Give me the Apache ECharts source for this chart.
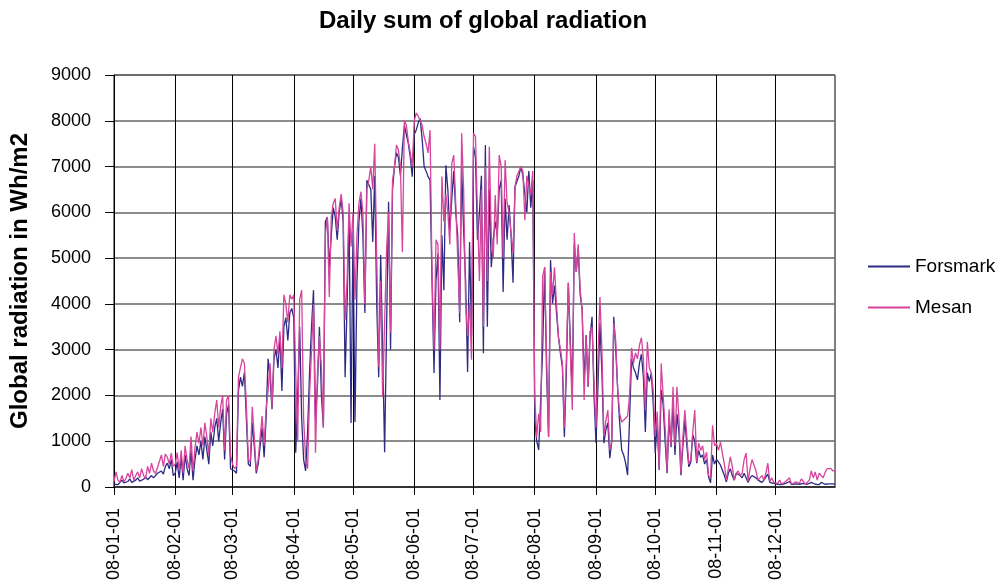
<!DOCTYPE html>
<html>
<head>
<meta charset="utf-8">
<script src="https://cdn.jsdelivr.net/npm/echarts@6/dist/echarts.min.js"></script>
<style>
  html, body { margin: 0; padding: 0; background: #fff; }
  #chart { width: 1000px; height: 586px; }
</style>
</head>
<body>
<div id="chart"></div>
<script>
  // days per month in 2008 (leap year)
  var monthDays = [31, 29, 31, 30, 31, 30, 31, 31, 30, 31, 30, 31];

  // daily sums, Wh/m2
  var forsmark = [
    // jan
    60,100,50,80,150,90,60,120,180,100,70,150,200,130,90,170,220,160,120,250,200,180,300,260,350,280,450,520,400,600,250,
    // feb
    300,550,200,650,150,700,400,250,800,150,600,900,700,1000,600,1100,800,500,1200,900,1300,1500,1000,1400,1700,600,1600,1800,400,
    // mar
    400,350,300,2100,2400,2200,2500,1500,500,450,1400,900,300,500,900,1300,650,1500,2800,2400,1700,2800,3000,2600,3300,2100,3500,3700,3200,3800,3900,
    // apr
    3700,750,2000,3500,1500,600,350,1200,2500,3500,4300,1500,2200,3500,2000,1300,5800,5900,4800,5500,6100,5900,5400,6000,6300,5800,2400,4000,6000,1400,
    // may
    5600,1420,4500,5800,6300,5500,3800,6700,6600,6500,5350,6800,4000,2400,5070,3000,760,3500,6230,3000,6500,7000,7300,7200,6800,7400,7900,7700,7500,7200,6780,
    // jun
    7700,7800,7950,8050,7600,7000,6900,6780,6700,4500,2490,4500,5100,1900,5500,4300,7030,6500,5600,6300,6900,6000,5500,3600,7000,5600,4500,2510,5350,3300,
    // jul
    7430,7200,5400,6000,6800,2920,7470,3500,6500,4800,5400,5800,5500,6500,6700,4260,6300,5400,6160,5500,4460,6560,6600,6800,7000,6800,6400,6000,6900,6100,6700,
    // aug
    1500,1000,810,770,3000,4800,2500,1090,4960,4010,4400,3800,3280,2920,2620,1090,2500,4460,3200,2000,5300,4700,5200,4200,3870,2300,3320,2190,3280,3720,2000,
    // sep
    960,2200,3580,2500,960,1250,1400,630,1000,3720,3000,2120,1400,810,700,520,260,1500,2800,2600,2500,2340,2700,2900,2400,1200,2500,2300,2490,1800,
    // oct
    740,1400,370,2120,1800,1000,300,1530,870,1800,700,1600,1200,260,900,1460,900,440,540,1140,1000,520,800,650,700,500,600,220,90,700,500,
    // nov
    600,550,480,450,250,110,300,400,250,150,300,320,250,200,300,280,100,200,250,250,200,150,120,100,150,120,280,100,120,80,
    // dec
    80,60,100,50,40,80,60,120,50,40,70,100,60,50,80,40,60,90,100,70,60,80,50,100,70,60,80,70,60,70,60
  ];

  var mesan = [
    // jan
    120,330,150,100,250,120,180,300,200,380,150,250,330,200,400,250,180,450,300,520,350,300,420,380,700,450,720,650,500,740,450,
    // feb
    500,750,350,800,300,900,600,400,1100,350,850,1200,950,1300,900,1400,1100,700,1500,1200,1600,1900,1300,1750,2000,800,1900,2000,700,
    // mar
    500,400,450,2400,2600,2800,2700,1800,600,550,1750,1100,350,600,1100,1550,900,1700,2100,2700,1750,3000,3300,2900,3400,2600,4200,4000,3600,4200,4100,
    // apr
    4200,2500,1000,4100,4300,1500,600,400,2000,3000,4000,750,2500,3300,2600,1300,5500,5900,4150,5900,6200,6300,5600,6100,6400,6000,3650,4500,6200,5250,
    // may
    6000,4090,5500,6200,6450,6000,4000,6500,6700,7000,6500,7500,5000,2620,4500,1970,2000,5200,6000,3370,6700,7000,7470,7360,7000,5130,8000,7900,7550,7300,7000,
    // jun
    8000,8170,8100,8080,7900,7650,7500,7300,7800,4700,3000,5400,5300,3000,6780,5800,6400,6000,5300,7070,7250,6200,5000,3800,7730,6500,4000,3300,4000,2780,
    // jul
    7730,7650,6000,4500,6500,3500,7000,4500,7430,5500,5000,6380,5300,7250,7000,5000,7140,6200,6000,6000,5100,6560,6800,6900,7000,6900,5830,6800,6780,6400,6900,
    // aug
    2000,1090,1600,1200,4600,4800,2800,1090,4700,4200,4800,4000,3280,3000,2700,1300,2800,4460,3000,1680,5550,4700,5300,4300,3870,1900,3320,2190,3400,3500,2300,
    // sep
    1300,2800,4150,3000,1100,1450,1680,800,1000,3580,3200,2120,1600,1420,1450,1500,1550,2000,3040,2700,2930,2800,3100,3260,2800,1680,3170,2600,2490,2100,
    // oct
    1100,1650,400,2700,2000,1300,350,1700,900,2190,900,2190,1500,300,1100,1680,1100,500,600,1200,1680,550,960,800,900,600,760,250,200,1350,900,
    // nov
    950,800,980,730,500,150,400,660,450,150,300,350,250,300,600,740,120,400,600,620,350,150,130,250,150,300,520,120,200,100,
    // dec
    100,80,150,60,50,120,80,200,60,50,110,150,80,180,120,60,90,150,350,200,330,150,300,280,200,320,400,380,400,350,360
  ];

  var yTicks = [0, 1000, 2000, 3000, 4000, 5000, 6000, 7000, 8000, 9000];

  // category labels yy-mm-dd
  var days = [];
  var monthStart = {};
  monthDays.forEach(function (n, m) {
    for (var d = 1; d <= n; d++) {
      var label = '08-' + (m < 9 ? '0' : '') + (m + 1) + '-' + (d < 10 ? '0' : '') + d;
      if (d === 1) monthStart[days.length] = true;
      days.push(label);
    }
  });

  function isMonthStart(index) {
    return !!monthStart[index];
  }

  var myChart = echarts.init(document.getElementById('chart'));
  var option = {
    animation: false,
    textStyle: { fontFamily: 'Liberation Sans, Arial, sans-serif' },
    title: {
      text: 'Daily sum of global radiation',
      left: 314,
      top: 4,
      textStyle: { fontSize: 24, fontWeight: 'bold', color: '#000' }
    },
    legend: {
      orient: 'vertical',
      left: 863,
      top: 252,
      itemWidth: 42,
      itemHeight: 2,
      itemGap: 22,
      icon: 'rect',
      textStyle: { fontSize: 19, color: '#000' },
      data: ['Forsmark', 'Mesan']
    },
    grid: {
      left: 110,
      right: 165,
      top: 75,
      bottom: 99,
      show: true,
      borderColor: '#000',
      borderWidth: 1
    },
    xAxis: {
      type: 'category',
      data: days,
      boundaryGap: false,
      axisLine: { lineStyle: { color: '#222', width: 1.5 } },
      axisTick: {
        interval: isMonthStart,
        length: 8,
        lineStyle: { color: '#000' }
      },
      axisLabel: {
        interval: isMonthStart,
        rotate: 90,
        margin: 21,
        fontSize: 18,
        color: '#000'
      },
      splitLine: {
        show: true,
        interval: isMonthStart,
        lineStyle: { color: '#000', width: 1 }
      }
    },
    yAxis: {
      type: 'value',
      min: yTicks[0],
      max: yTicks[yTicks.length - 1],
      interval: 1000,
      name: 'Global radiation in Wh/m2',
      nameLocation: 'middle',
      nameGap: 82,
      nameTextStyle: { fontSize: 24, fontWeight: 'bold', color: '#000' },
      axisLine: { show: true, lineStyle: { color: '#000' } },
      axisTick: { show: true, length: 9, lineStyle: { color: '#000' } },
      axisLabel: {
        fontSize: 18,
        color: '#000',
        margin: 23,
        formatter: function (v) { return String(v); }
      },
      splitLine: { lineStyle: { color: '#666', width: 1.5 } }
    },
    series: [
      {
        name: 'Forsmark',
        type: 'line',
        data: forsmark,
        symbol: 'none',
        lineStyle: { color: '#2d2a84', width: 1.3 },
        itemStyle: { color: '#2d2a84' }
      },
      {
        name: 'Mesan',
        type: 'line',
        data: mesan,
        symbol: 'none',
        lineStyle: { color: '#d6449c', width: 1.3 },
        itemStyle: { color: '#d6449c' }
      }
    ]
  };
  myChart.setOption(option);
</script>
</body>
</html>
